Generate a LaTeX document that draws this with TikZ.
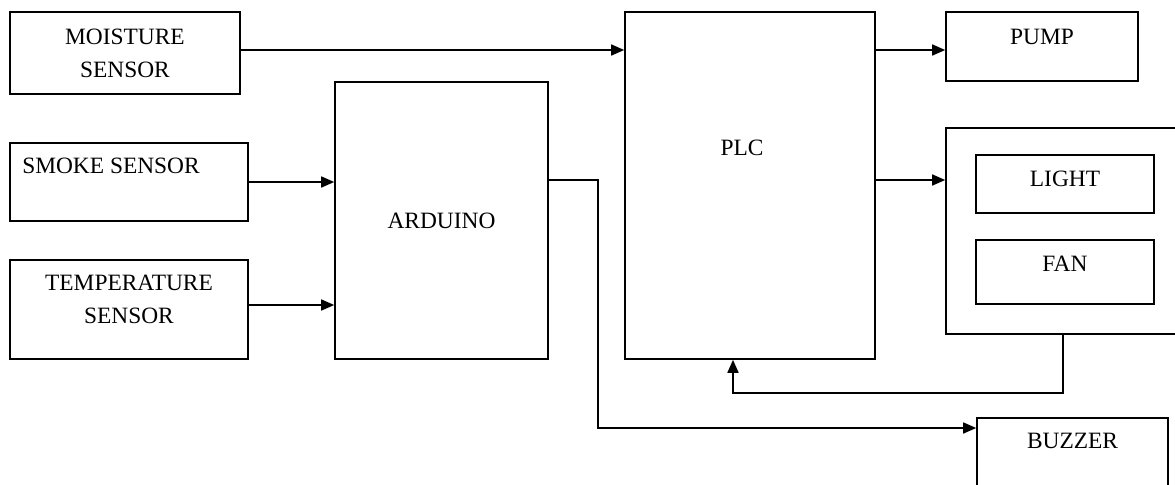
\documentclass[tikz,border=0pt]{standalone}
\usepackage{fontspec}
\setmainfont{Liberation Serif}
\usetikzlibrary{arrows.meta, positioning, calc}

\begin{document}
\begin{tikzpicture}[>={Triangle[length=6.5pt,width=5.5pt]}, x=0.5pt, y=-0.5pt,
  font=\fontsize{11.7}{16.5}\selectfont, line width=0.8pt,
  box/.style={draw, align=center, inner sep=0pt}]
  \useasboundingbox (0,0) rectangle (1175,484);

  % Sensors on the left
  \node (moist) [box, minimum width=115pt, minimum height=41pt] at (125,53) {MOISTURE\\SENSOR};
  \node (smoke) [box, minimum width=119pt, minimum height=39pt,
    label={[xshift=-9pt, yshift=8pt]center:SMOKE SENSOR}] at (129,182) {};
  \node (temp) [box, minimum width=119pt, minimum height=49.5pt,
    label={[align=center, yshift=5pt]center:TEMPERATURE\\SENSOR}] at (129,309.5) {};

  % Controllers
  \node (ard) [box, minimum width=106.5pt, minimum height=138.5pt] at (441.5,220.5) {ARDUINO};
  \node (plc) [box, minimum width=125pt, minimum height=173.5pt,
    label={[xshift=-4pt, yshift=19pt]center:PLC}] at (750,185.5) {};

  % Outputs on the right
  \node (pump) [box, minimum width=96pt, minimum height=34.5pt,
    label={[yshift=5pt]center:PUMP}] at (1042,46.5) {};
  \node (loads) [box, minimum width=120pt, minimum height=103pt] at (1066,231) {};
  \node (light) [box, minimum width=89pt, minimum height=29pt,
    label={[yshift=2.5pt]center:LIGHT}] at (1065,184) {};
  \node (fan) [box, minimum width=89pt, minimum height=32pt,
    label={[yshift=4pt]center:FAN}] at (1065,272) {};
  \node (buzz) [box, minimum width=95.5pt, minimum height=45pt,
    label={[yshift=11pt]center:BUZZER}] at (1072.5,463) {};

  % --- Sensor arrows ---
  \draw[->] ([yshift=1.5pt]moist.east) -- ([yshift=1.5pt]moist.east -| plc.west);
  \draw[->] (smoke.east) -- (smoke.east -| ard.west);
  \draw[->] ([yshift=2.25pt]temp.east) -- ([yshift=2.25pt]temp.east -| ard.west);

  % --- Arduino to buzzer ---
  \draw[->] ([yshift=20.25pt]ard.east) -- ++(24.5pt,0) |- ([yshift=17.5pt]buzz.west);

  % --- PLC outputs ---
  \draw[->] ([yshift=-1.75pt]plc.east |- pump.west) -- ([yshift=-1.75pt]pump.west);
  \draw[->] ([yshift=2pt]plc.east |- light.west) -- ([yshift=2pt]light.west -| loads.west);

  % feedback from the loads back into the PLC
  \draw[->] ([xshift=-1.5pt]loads.south) -- ++(0,-29pt) -| ([xshift=-8.5pt]plc.south);
\end{tikzpicture}
\end{document}
